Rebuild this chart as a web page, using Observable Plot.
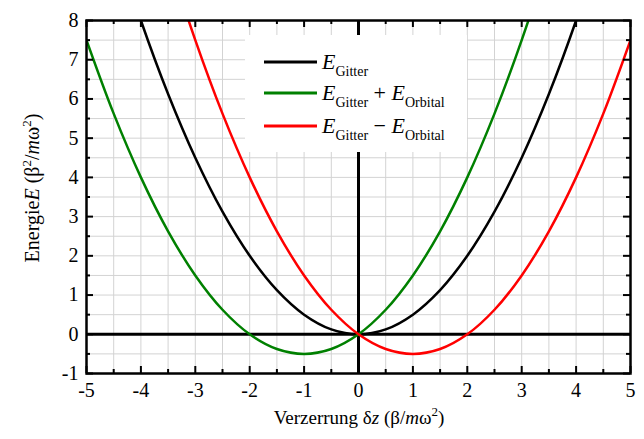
<!DOCTYPE html>
<html><head><meta charset="utf-8">
<script src="https://cdn.jsdelivr.net/npm/d3@7"></script>
<script src="https://cdn.jsdelivr.net/npm/@observablehq/plot@0.6"></script>
<style>body{margin:0;background:#fff}#chart{width:644px;height:439px}
#chart svg, #chart svg text, #chart svg tspan{font-family:"Liberation Serif","DejaVu Serif","Noto Serif",Tinos,"Times New Roman",Times,serif !important}</style>
</head><body><div id="chart"></div>
<script>
// Data (strain δz, energies)
const z       = [-5, -4.5, -4, -3.5, -3, -2.5, -2, -1.5, -1, -0.5, 0, 0.5, 1, 1.5, 2, 2.5, 3, 3.5, 4, 4.5, 5];
const eGitter = [12.5, 10.125, 8, 6.125, 4.5, 3.125, 2, 1.125, 0.5, 0.125, 0, 0.125, 0.5, 1.125, 2, 3.125, 4.5, 6.125, 8, 10.125, 12.5];
const ePlus   = [7.5, 5.625, 4, 2.625, 1.5, 0.625, 0, -0.375, -0.5, -0.375, 0, 0.625, 1.5, 2.625, 4, 5.625, 7.5, 9.625, 12, 14.625, 17.5];
const eMinus  = [17.5, 14.625, 12, 9.625, 7.5, 5.625, 4, 2.625, 1.5, 0.625, 0, -0.375, -0.5, -0.375, 0, 0.625, 1.5, 2.625, 4, 5.625, 7.5];
const seriesNames  = ["Gitter", "Gitter+Orbital", "Gitter-Orbital"];
const seriesColors = ["#000000", "#008000", "#ff0000"];
const xTicks = [-5, -4, -3, -2, -1, 0, 1, 2, 3, 4, 5];
const xMinor = [-4.5, -3.5, -2.5, -1.5, -0.5, 0.5, 1.5, 2.5, 3.5, 4.5];
const yTicks = [-1, 0, 1, 2, 3, 4, 5, 6, 7, 8];
const yMinor = [-0.5, 0.5, 1.5, 2.5, 3.5, 4.5, 5.5, 6.5, 7.5];

const seriesValues = [eGitter, ePlus, eMinus];
const rows = seriesNames.flatMap((s, k) => z.map((x, i) => ({z: x, E: seriesValues[k][i], s})));

const W = 644, H = 439, mL = 86, mR = 14, mT = 20, mB = 66;
const pw = W - mL - mR, ph = H - mT - mB;
const serif = '"Liberation Serif", "DejaVu Serif", "Noto Serif", Tinos, "Times New Roman", Times, serif';

const plot = Plot.plot({
  width: W, height: H,
  marginLeft: mL, marginRight: mR, marginTop: mT, marginBottom: mB,
  style: {fontFamily: serif, fontSize: "20px", color: "#000", background: "#fff"},
  x: {domain: [-5, 5]},
  y: {domain: [-1, 8]},
  color: {domain: seriesNames, range: seriesColors},
  marks: [
    Plot.ruleX(xTicks.concat(xMinor), {stroke: "#d3d3d3", strokeWidth: 1}),
    Plot.ruleY(yTicks.concat(yMinor), {stroke: "#d3d3d3", strokeWidth: 1}),
    Plot.ruleY([0], {stroke: "#000", strokeWidth: 3}),
    Plot.ruleX([0], {stroke: "#000", strokeWidth: 3}),
    Plot.line(rows, {x: "z", y: "E", z: "s", stroke: "s", strokeWidth: 2.5, curve: "catmull-rom", clip: true}),
    // inward ticks
    Plot.ruleX(xTicks, {stroke: "#000", strokeWidth: 2, insetTop: ph - 7}),
    Plot.ruleX(xTicks, {stroke: "#000", strokeWidth: 2, insetBottom: ph - 7}),
    Plot.ruleX(xMinor, {stroke: "#000", strokeWidth: 2, insetTop: ph - 4}),
    Plot.ruleX(xMinor, {stroke: "#000", strokeWidth: 2, insetBottom: ph - 4}),
    Plot.ruleY(yTicks, {stroke: "#000", strokeWidth: 2, insetRight: pw - 7}),
    Plot.ruleY(yTicks, {stroke: "#000", strokeWidth: 2, insetLeft: pw - 7}),
    Plot.ruleY(yMinor, {stroke: "#000", strokeWidth: 2, insetRight: pw - 4}),
    Plot.ruleY(yMinor, {stroke: "#000", strokeWidth: 2, insetLeft: pw - 4}),
    Plot.frame({stroke: "#000", strokeWidth: 2.5}),
    Plot.axisX(xTicks, {tickSize: 0, tickPadding: 9, tickFormat: d => String(d), fontSize: 20, label: null}),
    Plot.axisY(yTicks, {tickSize: 0, tickPadding: 8, tickFormat: d => String(d), fontSize: 20, label: null})
  ]
});
document.getElementById("chart").appendChild(plot);

const svg = d3.select(plot);

function richText(sel, parts, small, shift) {
  parts.forEach(p => {
    const t = sel.append("tspan").text(p.t);
    if (p.i) t.attr("font-style", "italic");
    if (p.sup) t.attr("font-size", small).attr("dy", -shift);
    if (p.sub) t.attr("font-size", small).attr("dy", shift);
    if (p.back) t.attr("dy", p.back);
  });
}

// x-axis title
const xt = svg.append("text").attr("x", 359).attr("y", 424)
  .attr("text-anchor", "middle").attr("font-family", serif).attr("font-size", 19).attr("fill", "#000");
richText(xt, [
  {t: "Verzerrung δ"}, {t: "z", i: true}, {t: " (β/"}, {t: "m", i: true}, {t: "ω"},
  {t: "2", sup: true}, {t: ")", back: 8}
], 13, 8);

// y-axis title
const yt = svg.append("text").attr("transform", "translate(39,188) rotate(-90)")
  .attr("text-anchor", "middle").attr("font-family", serif).attr("font-size", 20).attr("fill", "#000");
richText(yt, [
  {t: "Energie"}, {t: "E", i: true}, {t: " (β"}, {t: "2", sup: true}, {t: "/", back: 8},
  {t: "m", i: true}, {t: "ω"}, {t: "2", sup: true}, {t: ")", back: 8}
], 13, 8);

// legend
const lg = svg.append("g");
lg.append("rect").attr("x", 245).attr("y", 35).attr("width", 222).attr("height", 117).attr("fill", "#fff");
const legendRows = [
  [{t: "E", i: true}, {t: "Gitter", sub: true}],
  [{t: "E", i: true}, {t: "Gitter", sub: true}, {t: " + ", back: -7}, {t: "E", i: true}, {t: "Orbital", sub: true}],
  [{t: "E", i: true}, {t: "Gitter", sub: true}, {t: " − ", back: -7}, {t: "E", i: true}, {t: "Orbital", sub: true}]
];
const lineYs = [62, 93, 126];
legendRows.forEach((parts, k) => {
  lg.append("line").attr("x1", 264).attr("x2", 317).attr("y1", lineYs[k]).attr("y2", lineYs[k])
    .attr("stroke", seriesColors[k]).attr("stroke-width", 3);
  const t = lg.append("text").attr("x", 322).attr("y", lineYs[k] + 6.5).attr("text-anchor", "start")
    .attr("font-family", serif).attr("font-size", 22).attr("fill", "#000");
  richText(t, parts, 14, 7);
});
</script>
</body></html>
